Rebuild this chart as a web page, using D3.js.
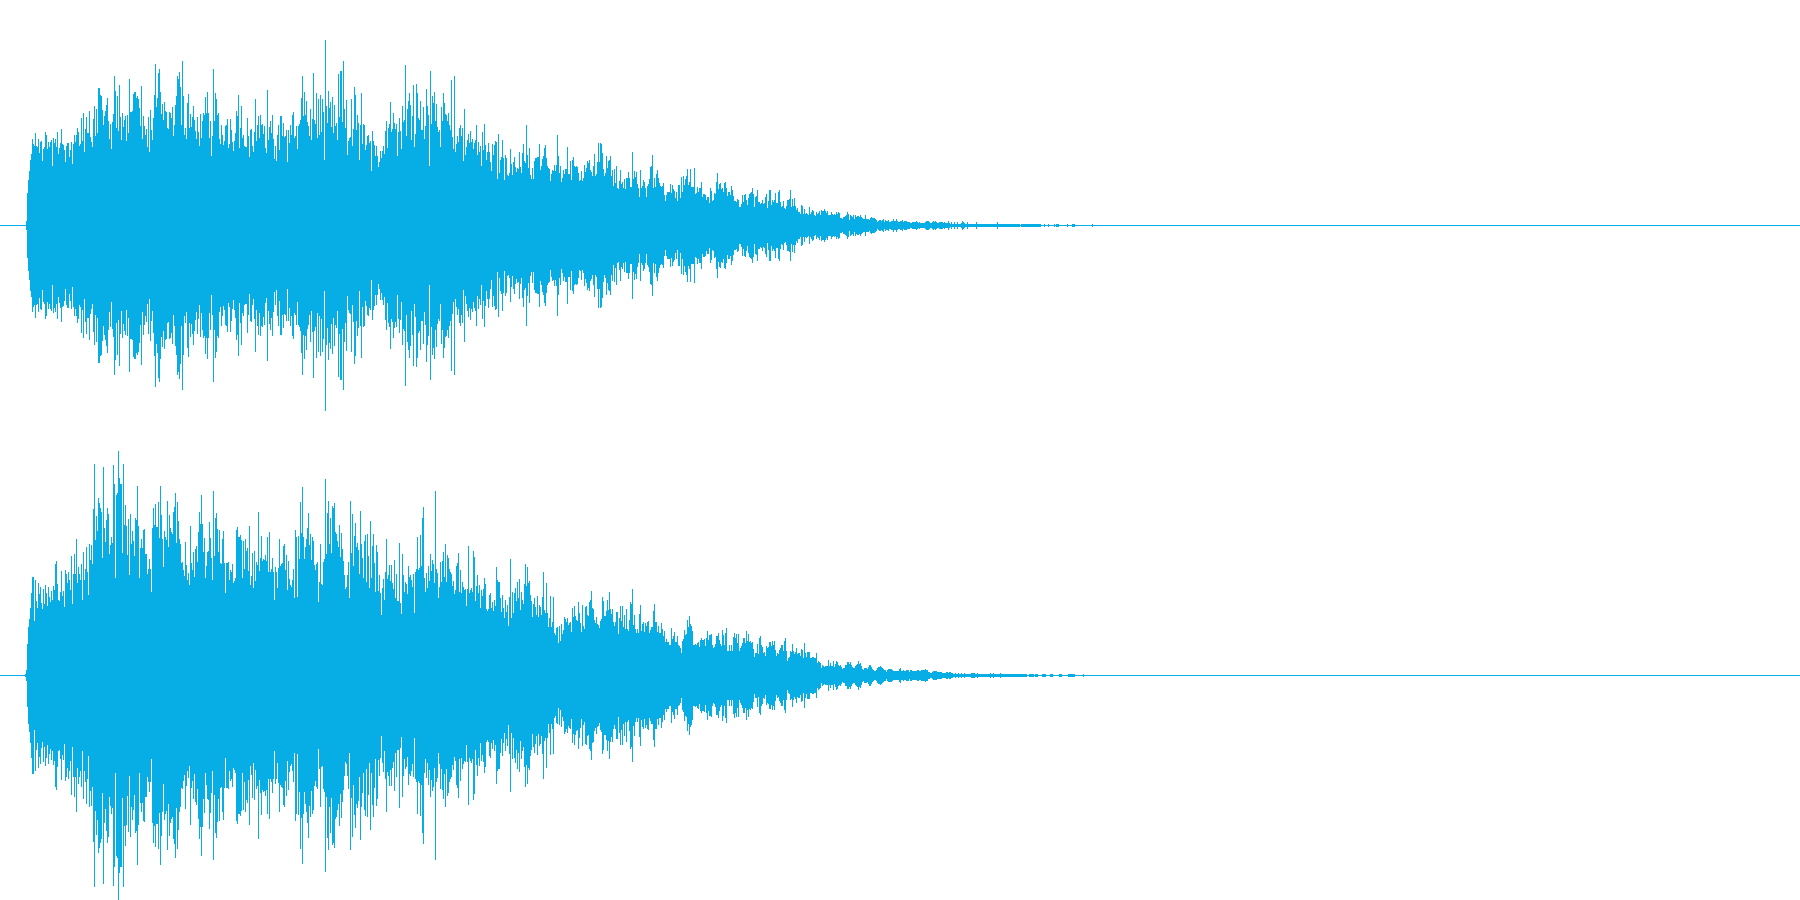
<!DOCTYPE html>
<html><head><meta charset="utf-8">
<script src="https://cdn.jsdelivr.net/npm/d3@7/dist/d3.min.js"></script>
<style>html,body{margin:0;padding:0;background:#fff;overflow:hidden}svg{display:block}</style>
</head><body><div id="chart"></div>
<script>
// Peak amplitude per column, one array per stretch of the time axis
const channelOneA = [4,32,45,54,65,71,86,81,79,92,79,78,86,72,83,84,64,76,78,93,90,76,83,78,83,85,59,87,82,86,78,93,71,77,82,96,81,80,75,63,79,82,82,68,75,83,61,81,90,83,90,97,93,79,81,107,84,112,73,96,108,92,92,114,88,83,78,106,119,89,116,92,137,130,129,115,100,109,114,120,127,104,86,101,76,103,111,149,134,97,129,94,140,108,85,112,98,105,109,84,110,92,146,113,113,114,131,133,133,127,129,126,117,99,139,86,109,99,90,96,78,108,73,115,95,85,107,130,161,118,127,152,156,133,111,121,105,123,114,113,97,96,113,112,107,118,89,100,120,129,149,146,153,138,100,164,129,90,97,86,122,131,97,111,98,108,119,105,94,86,108,93,79,111,87,104,112,110,128,112,133,112,87,104,69,89,156,104,132,126,110,112,86,81,100,90,80,84,99,100,106,77,81,106,95,83,74,84,92,114,109,130,77,97,119,87,90,79,78,107,89,68,95,96,79,73,93,126,84,100,109,87,110,100,101,91,99,77,72,135,85,98,104,92,110,86,66,79,64,90,100,75,109,109,89,102,88,89,95,63,95,82,100,90,110,113,87,89,99,76,99,101,105,127,149,109,133,110,124,103,99,89,116,85,106,152,105,101,132,87,126,90];
const channelOneB = [130,93,126,113,65,185,119,102,134,117,123,98,128,92,120,99,102,85,151,108,154,154,103,164,116,97,125,70,84,87,88,126,79,96,138,130,95,110,102,65,100,132,81,101,100,75,80,89,90,82,84,54,94,84,80,69,79,69,58,63,74,67,74,79,71,94,104,77,97,101,123,93,96,112,102,96,101,69,93,107,94,76,119,103,105,160,89,116,124,132,120,85,109,140,78,91,141,132,107,105,124,95,95,118,86,99,136,119,110,59,154,101,129,122,133,104,121,98,93,95,78,118,104,132,122,111,110,104,112,100,95,145,88,76,149,73,81,89,83,97,100,89,97,64,116,70,78,85,91,82,94,83,86,76,82,85,100,70,83,73,79,59,93,75,101,80,65,73,82,73,63,54,81,70,80,84,83,46,91,52,65,68,85,67,45,70,67,50,49,52,76,61,50,63,68,58,53,57,56,73,58,52,72,81,64,62,100,70,57,77,50,46,57,46,64,67,67,68,68,81,55,59,66,69,77,80,67,59,57,56,44,51,55,54,60,54,60,90,69,52,59,43,47,55,51,56,56,78,51,51,64,45,65,68,59,58,59,58,52,44,45,54,44,47,60,53,57,64,62,65,55,53,49,59,71,49,51,63,82,63,82,81,72,56,49,52,69,57,64,65,69,49,55,39,56,42,59,37,36,44];
const channelOneC = [55,41,43,37,46,36,47,47,53,47,38,38,73,46,54,48,53,41,37,28,55,37,39,45,43,37,28,39,41,46,58,59,70,37,47,38,51,55,47,42,39,38,39,42,30,24,30,33,33,33,41,32,40,36,34,27,33,24,40,40,27,48,33,49,40,46,49,56,40,43,56,38,38,38,57,31,32,38,33,37,37,43,28,31,31,30,25,28,28,22,37,34,24,25,32,31,43,52,36,41,42,36,37,33,42,43,37,29,33,33,30,39,35,29,24,24,23,26,25,18,18,21,30,23,30,31,25,20,27,31,32,33,37,31,18,28,29,35,23,23,21,22,25,21,22,28,31,17,24,35,20,25,23,25,32,22,22,33,35,23,18,19,24,17,16,19,25,25,26,35,18,26,19,27,19,15,17,13,13,11,20,19,11,16,11,12,11,10,18,11,13,15,14,10,9,13,11,12,14,10,15,14,14,16,14,12,14,10,10,10,13,11,10,11,10,13,11,13,12,7,7,6,8,8,9,10,13,11,5,10,9,8,10,6,10,8,9,9,8,10,8,7,6,6,10,6,6,6,5,7,8,7,7,7,6,5,3,4,5,5,4,5,6,3,5,4,4,5,3,3,4,4,6,4,4,6,4,3,3,4,4,5,3,4,4,4,3,3,3,2,2,3,3,3,2,4,3,2,3];
const channelOneD = [3,3,4,3,4,4,4,3,2,2,2,2,3,3,3,3,4,2,2,2,2,2,2,2,2,3,4,4,4,3,2,2,3,4,3,4,3,2,2,3,3,3,3,2,3,2,2,2,4,2,1,3,1,1,3,1,1,3,1,1,1,2,4,3,2,1,1,3,1,1,1,1,1,1,1,1,3,1,1,1,1,1,1,1,1,1,1,1,1,1,1,1,1,1,1,1,1,3,1,1,1,1,1,1,1,1,1,1,1,1,1,1,1,1,1,1,1,1,1,1,0,1,1,1,1,1,1,1,1,1,1,1,1,1,1,1,1,1,1,1,1,0,0,0,1,0,0,0,1,0,0,0,0,0,1,0,1,1,1,0,0,0,0,0,0,0,0,1,0,0,0,0,1,1,1,0,0,0,0,0,0,0,0,0,0,0,0,0,0,0,0,0,1];

const channelTwoA = [1,5,31,48,56,67,82,98,98,54,95,74,67,92,81,88,72,66,86,71,90,82,69,88,78,73,84,75,89,85,111,114,91,75,74,83,104,79,84,68,105,101,92,103,95,85,119,71,101,121,101,136,92,108,101,95,111,75,123,95,106,128,103,80,131,115,130,111,166,211,135,159,144,177,172,167,163,117,208,147,133,155,167,161,121,130,138,132,210,191,97,180,182,224,197,191,191,122,211,150,170,149,120,156,100,161,131,144,134,119,157,155,189,149,97,127,136,127,145,146,121,121,101,106,116,106,83,147,167,150,171,148,148,173,137,189,160,136,108,144,138,135,174,128,160,147,143,141,163,168,182,132,173,154,136,131,112,113,105,99,133,110,95,102,90,149,112,105,123,98,126,129,113,143,163,151,180,151,123,137,97,109,123,124,153,137,117,95,184,119,157,162,146,123,145,112,111,136,144,112,82,112,112,113,95,105,103,111,92,94,97,145,148,138,138,140,135,97,134,106,136,124,127,104,149,90,99,122,87,124,94,113,110,163,104,117,139,114,116,115,120,114,138,103,143,103,106,117,103,75,108,103,87,107,136,109,111,112,129,131,105,120,85,114,96,90,88,95,106,77,145,138,78,139,116,173,142,188,138,116,128,136,147,162,130,141,115,138,134,110,105,111,113,73,93];
const channelTwoB = [131,91,90,113,116,196,121,162,174,131,157,122,169,167,172,143,141,134,128,150,118,142,126,114,100,86,88,100,113,77,174,122,161,109,139,152,128,132,125,101,164,131,117,97,134,140,93,141,119,87,154,97,129,141,112,83,130,123,84,100,82,60,87,96,75,103,136,96,100,110,94,110,92,86,115,77,101,74,74,132,72,61,121,100,83,93,91,81,109,98,100,95,88,101,62,103,106,138,105,107,140,109,157,168,97,83,102,87,109,94,121,104,115,111,92,184,106,102,77,88,113,93,114,123,98,131,93,120,117,106,103,101,89,94,81,85,109,112,122,83,105,82,93,88,85,86,69,86,129,82,85,87,83,124,118,74,89,100,82,90,67,85,79,86,97,91,66,64,66,80,82,67,73,64,75,69,108,95,93,93,77,63,80,67,57,75,63,70,49,78,116,57,83,62,82,87,74,93,77,96,65,83,75,71,91,111,89,108,92,94,80,74,58,71,77,68,60,79,58,70,68,60,78,103,65,62,92,62,48,57,79,48,53,78,42,40,47,48,32,49,34,51,41,45,58,56,53,57,50,52,53,43,67,58,69,59,55,54,73,62,52,43,70,49,46,68,69,60,59,73,75,84,67,66,55,52,58,51,50,47,54,56,78,74,59,59,64,75,65,83,66,61,66,53,49,53,63,63,41,57];
const channelTwoC = [69,54,69,48,60,46,66,46,44,55,73,71,86,50,60,46,42,46,42,61,70,44,51,53,43,52,49,53,54,42,45,48,48,64,71,53,53,43,49,42,42,52,46,39,44,33,36,33,33,30,47,36,39,43,33,33,39,30,29,27,22,34,36,45,40,41,55,48,59,51,49,44,30,30,31,30,32,33,28,35,37,35,35,36,29,37,44,35,40,40,41,30,27,28,31,39,39,42,35,31,29,45,40,30,42,47,24,24,30,24,30,24,38,42,37,41,32,41,24,27,29,32,37,37,32,44,34,41,33,34,32,33,26,18,22,22,31,21,37,39,30,28,22,23,19,29,27,28,33,29,34,30,34,25,19,22,21,25,27,30,30,24,34,37,24,14,17,18,24,23,31,24,21,23,27,21,22,22,19,26,25,17,32,22,18,23,23,23,17,17,18,18,17,17,22,12,14,13,12,7,10,9,8,9,9,9,15,9,12,9,9,14,8,11,14,13,10,9,10,8,6,7,7,10,10,13,13,11,13,10,8,7,7,9,10,11,14,11,12,9,6,5,7,7,7,6,8,10,8,6,5,4,4,5,7,8,8,9,8,7,6,5,5,3,5,6,6,6,6,5,4,4,4,4,4,4,6,7,4,3,3,3,3,4,5,5,2,3,3,3,3,4,4,4,4,3,4];
const channelTwoD = [4,4,4,5,4,4,5,5,4,3,5,5,4,4,3,3,4,5,5,4,4,5,5,5,5,6,5,5,3,3,2,2,3,4,4,4,4,3,3,3,3,3,2,2,2,2,3,3,2,3,3,2,2,1,1,2,1,1,2,1,1,2,1,1,2,1,1,1,1,1,1,2,2,2,2,1,1,2,1,1,1,1,1,1,1,1,1,1,1,1,2,1,1,2,1,1,1,1,1,1,2,1,1,1,1,1,1,1,1,1,1,1,1,1,1,1,1,1,1,1,1,1,1,1,1,1,1,0,0,1,1,1,1,1,0,1,1,1,0,0,0,0,1,1,1,1,0,0,0,0,1,1,1,0,0,0,0,0,0,1,1,1,0,0,0,0,0,0,1,1,1,1,1,1,1,0,0,0,0,0,0,0,0,1];

// Pixel columns of the 1800 wide picture that each array spans: [first, end]
const channelOneSpans = [[26, 320], [320, 620], [620, 920], [900, 1093]];
const channelTwoSpans = [[25, 320], [320, 620], [620, 920], [900, 1084]];

const channels = [
  {parts: [channelOneA, channelOneB, channelOneC, channelOneD], spans: channelOneSpans, top: 0},
  {parts: [channelTwoA, channelTwoB, channelTwoC, channelTwoD], spans: channelTwoSpans, top: 450}
];
const colour = "#06AEE5";
const W = 1800, H = 900, laneH = 450;

const svg = d3.select("#chart").append("svg").attr("width", W).attr("height", H);
const y = d3.scaleLinear().domain([-225, 225]).range([laneH, 0]);

channels.forEach(ch => {
  const g = svg.append("g").attr("transform", `translate(0,${ch.top})`).attr("shape-rendering", "crispEdges");
  g.append("rect").attr("x", 0).attr("width", W).attr("y", y(0)).attr("height", 1).attr("fill", colour);
  ch.parts.forEach((values, p) => {
    const x = d3.scaleLinear().domain([0, values.length]).range(ch.spans[p]);
    g.append("g").selectAll("rect").data(values).join("rect")
      .attr("x", (d, i) => Math.round(x(i)))
      .attr("width", (d, i) => Math.max(1, Math.round(x(i + 1)) - Math.round(x(i))))
      .attr("y", d => y(d))
      .attr("height", d => y(-d) - y(d) + 1)
      .attr("fill", colour);
  });
});
</script></body></html>
